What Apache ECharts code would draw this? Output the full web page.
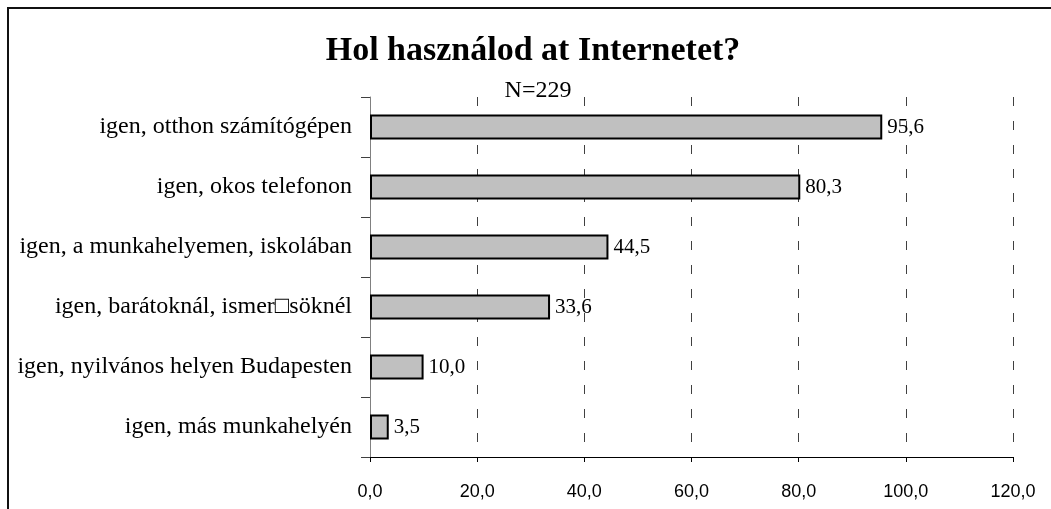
<!DOCTYPE html>
<html><head><meta charset="utf-8">
<script src="https://cdn.jsdelivr.net/npm/echarts@6/dist/echarts.min.js"></script>
<style>html,body{margin:0;padding:0;background:#fff}#c{width:1051px;height:509px}</style>
</head><body><div id="c"></div>
<script>
const titleText = "Hol használod at Internetet?";
const subtitleText = "N=229";
const categories = [
  "igen, otthon számítógépen",
  "igen, okos telefonon",
  "igen, a munkahelyemen, iskolában",
  "igen, barátoknál, ismer\u25A1söknél",
  "igen, nyilvános helyen Budapesten",
  "igen, más munkahelyén"
];
const values = [95.6, 80.3, 44.5, 33.6, 10.0, 3.5];
const xTicks = [0, 20, 40, 60, 80, 100, 120];

const FONT = "Liberation Serif";
const chart = echarts.init(document.getElementById('c'), null, {renderer: 'canvas'});
chart.setOption({
  animation: false,
  backgroundColor: '#fff',
  title: [
    {text: titleText, left: 528, top: 29, textAlign: 'center',
     textStyle: {fontFamily: FONT, fontSize: 34, fontWeight: 'bold', color: '#000'}},
    {text: subtitleText, left: 533, top: 74, textAlign: 'center',
     textStyle: {fontFamily: FONT, fontSize: 24, fontWeight: 'normal', color: '#000'}}
  ],
  graphic: [{type: 'rect', shape: {x: 8, y: 8, width: 1100, height: 600},
    style: {fill: 'none', stroke: '#111', lineWidth: 2}, z: -1}],
  grid: {left: 370, right: 38, top: 97, bottom: 52},
  xAxis: {
    type: 'value', min: xTicks[0], max: xTicks[xTicks.length - 1], interval: 20,
    axisLine: {show: true, lineStyle: {color: '#000', width: 1}},
    axisTick: {show: true, length: 5, lineStyle: {color: '#000'}},
    axisLabel: {fontFamily: 'Liberation Sans', fontSize: 18, color: '#000', margin: 26,
      formatter: v => v.toFixed(1).replace('.', ',')},
    splitLine: {show: true, lineStyle: {color: '#404040', width: 1, type: [9, 15]}}
  },
  yAxis: {
    type: 'category', data: categories, inverse: true,
    axisLine: {show: true, lineStyle: {color: '#808080', width: 1}},
    axisTick: {show: true, length: 9, lineStyle: {color: '#404040'}},
    axisLabel: {fontFamily: FONT, fontSize: 24, color: '#000', margin: 18}
  },
  series: [{
    type: 'bar', data: values, barWidth: 25,
    itemStyle: {color: '#c0c0c0', borderColor: '#000', borderWidth: 2},
    label: {show: true, position: 'right', distance: 5, fontFamily: FONT, fontSize: 21, color: '#000',
      formatter: p => p.value.toFixed(1).replace('.', ',')}
  }]
});
</script></body></html>
